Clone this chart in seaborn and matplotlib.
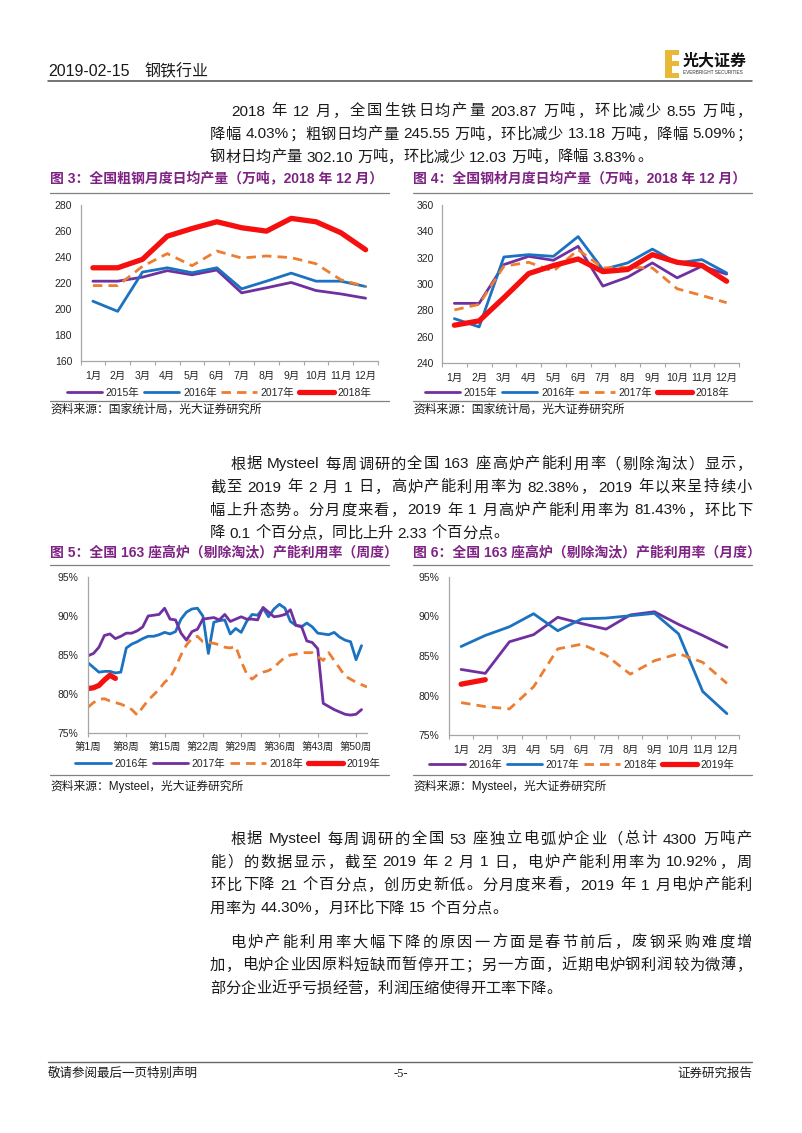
import numpy as np
import matplotlib
matplotlib.use("Agg")
import matplotlib.pyplot as plt
import seaborn as sns
from matplotlib.lines import Line2D
from matplotlib.patches import Rectangle
from matplotlib.ticker import FuncFormatter

# ---------------- data ----------------
months = ["1月", "2月", "3月", "4月", "5月", "6月", "7月", "8月", "9月", "10月", "11月", "12月"]

crude_2015 = [221.4, 221.4, 224.5, 229.5, 226.3, 230.0, 212.4, 216.3, 220.4, 214.2, 211.6, 208.3]
crude_2016 = [206.0, 198.2, 228.4, 231.7, 227.9, 231.7, 215.5, 221.4, 227.6, 221.4, 221.4, 217.3]
crude_2017 = [218.0, 218.0, 232.8, 242.6, 233.3, 244.6, 239.2, 240.8, 239.5, 234.8, 222.5, 217.3]
crude_2018 = [231.7, 231.7, 238.2, 256.0, 261.9, 267.1, 262.5, 259.9, 269.7, 267.1, 258.7, 245.6]

rolled_2015 = [285.3, 285.3, 314.7, 321.0, 318.0, 328.6, 298.4, 305.2, 316.0, 304.7, 313.5, 307.5]
rolled_2016 = [273.7, 267.4, 320.5, 322.3, 321.0, 336.0, 311.0, 316.0, 326.5, 316.0, 318.5, 308.4]
rolled_2017 = [280.3, 284.5, 313.5, 316.5, 309.7, 326.0, 312.2, 312.7, 312.2, 296.4, 291.3, 285.8]
rolled_2018 = [268.7, 272.0, 289.6, 307.9, 314.0, 319.0, 309.4, 311.0, 322.3, 316.5, 314.1, 302.1]

week_ticks = [1, 8, 15, 22, 29, 36, 43, 50]
week_labels = ["第1周", "第8周", "第15周", "第22周", "第29周", "第36周", "第43周", "第50周"]

bf_w_2016 = [84.0, 83.4, 82.8, 82.9, 82.9, 82.7, 82.8, 85.9, 86.4, 86.7,
             87.1, 87.4, 87.4, 87.6, 87.9, 87.7, 88.0, 89.6, 90.5, 90.9,
             91.0, 90.0, 85.2, 89.2, 89.4, 89.5, 87.7, 88.4, 87.9, 89.3,
             90.2, 90.1, 91.0, 89.9, 90.9, 91.5, 91.0, 89.3, 88.8, 88.6,
             89.1, 88.6, 87.8, 87.7, 87.6, 87.9, 87.3, 86.9, 86.7, 84.4, 86.2]
bf_w_2017 = [84.9, 85.2, 86.0, 87.5, 87.7, 87.1, 87.4, 87.8, 87.8, 88.1,
             88.6, 90.0, 90.1, 90.2, 91.0, 89.6, 89.5, 87.8, 86.9, 88.0,
             88.3, 89.6, 89.7, 89.8, 89.5, 90.2, 89.3, 89.6, 89.9, 89.6,
             89.6, 89.5, 91.1, 90.5, 89.9, 90.0, 90.2, 90.8, 88.8, 88.7,
             86.8, 86.6, 85.8, 78.8, 78.4, 78.0, 77.7, 77.4, 77.3, 77.4, 78.0]
bf_w_2018 = [78.3, 78.9, 79.3, 79.4, 79.1, 78.9, 78.7, 78.4, 78.0, 77.3,
             78.3, 79.2, 79.9, 80.6, 81.5, 82.1, 83.4, 85.0, 86.3, 87.1,
             87.4, 86.7, 86.6, 86.5, 86.3, 86.0, 85.9, 86.1, 84.2, 82.6,
             81.9, 82.5, 82.8, 83.0, 83.4, 84.1, 84.7, 85.0, 85.1, 85.3,
             85.3, 85.3, 84.8, 84.3, 85.3, 84.3, 83.3, 82.3, 81.9, 81.5, 81.2, 80.9]
bf_w_2019 = [80.7, 80.8, 81.1, 81.8, 82.4, 82.0]

bf_m_2016 = [83.3, 82.8, 86.8, 87.7, 89.9, 89.1, 88.4, 90.2, 90.6, 89.0, 87.6, 86.1]
bf_m_2017 = [86.2, 87.6, 88.7, 90.35, 88.2, 89.7, 89.8, 90.1, 90.4, 87.8, 80.5, 77.7]
bf_m_2018 = [79.1, 78.6, 78.3, 81.1, 85.9, 86.5, 85.1, 82.7, 84.4, 85.3, 84.2, 81.53]
bf_m_2019 = [81.43, 82.0]

para1 = ["2018 年 12 月，全国生铁日均产量 203.87 万吨，环比减少 8.55 万吨，",
         "降幅 4.03%；粗钢日均产量 245.55 万吨，环比减少 13.18 万吨，降幅 5.09%；",
         "钢材日均产量 302.10 万吨，环比减少 12.03 万吨，降幅 3.83%。"]
para2 = ["根据 Mysteel 每周调研的全国 163 座高炉产能利用率（剔除淘汰）显示，",
         "截至 2019 年 2 月 1 日，高炉产能利用率为 82.38%，2019 年以来呈持续小",
         "幅上升态势。分月度来看，2019 年 1 月高炉产能利用率为 81.43%，环比下",
         "降 0.1 个百分点，同比上升 2.33 个百分点。"]
para3 = ["根据 Mysteel 每周调研的全国 53 座独立电弧炉企业（总计 4300 万吨产",
         "能）的数据显示，截至 2019 年 2 月 1 日，电炉产能利用率为 10.92%，周",
         "环比下降 21 个百分点，创历史新低。分月度来看，2019 年 1 月电炉产能利",
         "用率为 44.30%，月环比下降 15 个百分点。"]
para4 = ["电炉产能利用率大幅下降的原因一方面是春节前后，废钢采购难度增",
         "加，电炉企业因原料短缺而暂停开工；另一方面，近期电炉钢利润较为微薄，",
         "部分企业近乎亏损经营，利润压缩使得开工率下降。"]

# ---------------- style ----------------
W, H = 802, 1133
sns.set_theme(style="white")
FAM = ["Liberation Sans", "Noto Sans CJK SC"]
plt.rcParams["font.family"] = FAM
plt.rcParams["axes.unicode_minus"] = False

PURPLE = "#7030A0"
BLUE = "#1B72C0"
ORANGE = "#ED7D31"
RED = "#F50F0F"
TITLE_C = "#7E2283"
AXC = "#A6A6A6"
TXT = "#262626"
BODY = "#1A1A1A"
BODY_SIZE = 11

fig = plt.figure(figsize=(W / 100, H / 100), dpi=100)
fig.patch.set_facecolor("white")
renderer = fig.canvas.get_renderer()


def fx(x):
    return x / W


def fy(y):
    return 1 - y / H


def add_ax(l, t, r, b):
    return fig.add_axes([fx(l), fy(b), (r - l) / W, (b - t) / H])


def hline(x0, x1, y, color, lw):
    fig.add_artist(Line2D([fx(x0), fx(x1)], [fy(y), fy(y)], transform=fig.transFigure,
                          color=color, lw=lw))


# ---------------- body text with justification ----------------
PUNCT_L = set("，。；：、）！？")
PUNCT_R = set("（")


def split_tokens(s):
    """Return list of (token, space_before)."""
    toks, buf, sp = [], "", False
    for ch in s:
        if ch == " ":
            if buf:
                toks.append((buf, sp))
                buf, sp = "", False
            sp = True
        elif ord(ch) < 128:
            buf += ch
        else:
            if buf:
                toks.append((buf, sp))
                buf, sp = "", False
            toks.append((ch, sp))
            sp = False
    if buf:
        toks.append((buf, sp))
    return toks


def body_line(s, x0, y, x1=None, size=BODY_SIZE):
    em = size * 100 / 72
    base = fy(y + 0.36 * em)
    items = []
    for t, sp in split_tokens(s):
        pre = 0.25 * em if sp else 0.0
        if ord(t[0]) >= 128:
            items.append([t, em, None, pre])
        else:
            tx = fig.text(0, base, t, fontsize=size, ha="left", va="baseline", color=BODY)
            w = tx.get_window_extent(renderer).width + 0.1 * em
            items.append([t, w, tx, pre])
    total = sum(it[1] + it[3] for it in items)
    gap = 0.0
    if x1 is not None and len(items) > 1:
        gap = (x1 - x0 - total) / (len(items) - 1)
    x = x0
    for t, w, tx, pre in items:
        x += pre
        if tx is not None:
            tx.set_x(fx(x + 0.05 * em))
        elif t in PUNCT_L:
            fig.text(fx(x + 0.03 * em), base, t, fontsize=size, ha="left", va="baseline", color=BODY)
        elif t in PUNCT_R:
            fig.text(fx(x + w - 0.03 * em), base, t, fontsize=size, ha="right", va="baseline", color=BODY)
        else:
            fig.text(fx(x + w / 2), base, t, fontsize=size, ha="center", va="baseline", color=BODY)
        x += w + gap


def paragraph(lines, ys, indent_x=230, left=210, right=752):
    n = len(lines)
    for i, (s, y) in enumerate(zip(lines, ys)):
        x0 = indent_x if i == 0 else left
        body_line(s, x0, y, right if i < n - 1 else None)


# ---------------- header / footer ----------------
fig.text(fx(48), fy(72), "2019-02-15", fontsize=11.5, ha="left", va="center", color=BODY)
fig.text(fx(144), fy(72), "钢铁行业", fontsize=11.5, ha="left", va="center", color=BODY)
hline(48, 752, 80.5, "#4D4D4D", 1.1)
# logo
fig.add_artist(Rectangle((fx(665), fy(78)), 14 / W, 28 / H, transform=fig.transFigure,
                         facecolor="#E8B838", edgecolor="none"))
for yy in (55, 66.5):
    fig.add_artist(Rectangle((fx(671.5), fy(yy + 6)), 8 / W, 6 / H, transform=fig.transFigure,
                             facecolor="white", edgecolor="none"))
fig.text(fx(683), fy(61), "光大证券", fontsize=11.5, fontweight="bold", ha="left", va="center", color="#111111")
fig.text(fx(683), fy(73), "EVERBRIGHT SECURITIES", fontsize=3.4, ha="left", va="center", color="#333333")

hline(48, 752, 1062, "#666666", 1.0)
fig.text(fx(48), fy(1074), "敬请参阅最后一页特别声明", fontsize=9, ha="left", va="center", color=BODY)
fig.text(fx(401), fy(1074), "-5-", fontsize=9, ha="center", va="center", color=BODY,
         family=["Liberation Serif", "Noto Sans CJK SC"])
fig.text(fx(752), fy(1074), "证券研究报告", fontsize=9, ha="right", va="center", color=BODY)

# ---------------- paragraphs ----------------
paragraph(para1, [110, 133, 156])
paragraph(para2, [463, 486, 509, 532])
paragraph(para3, [838, 861, 884, 907])
paragraph(para4, [941, 964, 987])

# ---------------- chart frames ----------------
def frame(x0, x1, ytitle, yline1, yline2, ysrc, title, source):
    fig.text(fx(x0), fy(ytitle), title, fontsize=10, fontweight="bold", ha="left", va="center", color=TITLE_C)
    hline(x0, x1, yline1, "#808080", 0.9)
    hline(x0, x1, yline2, "#808080", 0.9)
    fig.text(fx(x0), fy(ysrc), source, fontsize=8.5, ha="left", va="center", color=BODY)


frame(50, 389, 178, 193, 401, 410, "图 3：全国粗钢月度日均产量（万吨，2018 年 12 月）", "资料来源：国家统计局，光大证券研究所")
frame(413, 752, 178, 193, 401, 410, "图 4：全国钢材月度日均产量（万吨，2018 年 12 月）", "资料来源：国家统计局，光大证券研究所")
frame(50, 389, 552, 565, 775, 786, "图 5：全国 163 座高炉（剔除淘汰）产能利用率（周度）", "资料来源：Mysteel，光大证券研究所")
frame(413, 752, 552, 565, 775, 786, "图 6：全国 163 座高炉（剔除淘汰）产能利用率（月度）", "资料来源：Mysteel，光大证券研究所")


def style_axes(ax):
    for s in ["top", "right"]:
        ax.spines[s].set_visible(False)
    for s in ["left", "bottom"]:
        ax.spines[s].set_visible(True)
        ax.spines[s].set_color(AXC)
        ax.spines[s].set_linewidth(0.9)
    ax.set_facecolor("white")
    ax.grid(False)
    ax.set_xlabel("")
    ax.set_ylabel("")
    ax.tick_params(axis="y", left=False, length=0, pad=6, labelsize=7.5, labelcolor=TXT)


def month_axes(ax, ymin, ymax, step, pct=False):
    style_axes(ax)
    ax.set_xlim(-0.5, 11.5)
    ax.set_ylim(ymin, ymax)
    ax.set_yticks(np.arange(ymin, ymax + 0.01, step))
    if pct:
        ax.yaxis.set_major_formatter(FuncFormatter(lambda v, p: f"{v:.0f}%"))
    ax.set_xticks(np.arange(-0.5, 12, 1))
    ax.set_xticklabels([])
    ax.set_xticks(np.arange(12), minor=True)
    ax.set_xticklabels(months, minor=True)
    ax.tick_params(axis="x", which="major", bottom=True, length=3, width=0.8, color=AXC, direction="out")
    ax.tick_params(axis="x", which="minor", bottom=True, length=0, pad=7, labelsize=7.5, labelcolor=TXT)


def draw(ax, x, y, color, lw, dashed=False):
    sns.lineplot(x=np.asarray(x), y=np.asarray(y), ax=ax, color=color, linewidth=lw,
                 estimator=None, sort=False, legend=False)
    line = ax.lines[-1]
    line.set_solid_capstyle("round")
    line.set_solid_joinstyle("round")
    if dashed:
        line.set_linestyle("--")
        line.set_dashes((3.4, 2.2))
        line.set_dash_capstyle("butt")
    return line


def legend(ax, handles, labels, cx, cy):
    ax.legend(handles, labels, loc="center", bbox_to_anchor=(fx(cx), fy(cy)),
              bbox_transform=fig.transFigure, ncol=4, frameon=False, fontsize=7.5,
              handlelength=3.4, handletextpad=0.35, columnspacing=0.45,
              borderaxespad=0, borderpad=0, labelcolor=TXT)


mx = np.arange(12)

# ---- Figure 3 ----
ax3 = add_ax(80.5, 205, 378, 361)
h = [draw(ax3, mx, crude_2015, PURPLE, 2.0),
     draw(ax3, mx, crude_2016, BLUE, 2.0),
     draw(ax3, mx, crude_2017, ORANGE, 2.0, dashed=True),
     draw(ax3, mx, crude_2018, RED, 3.8)]
month_axes(ax3, 160, 280, 20)
legend(ax3, h, ["2015年", "2016年", "2017年", "2018年"], 219, 393)

# ---- Figure 4 ----
ax4 = add_ax(442, 205, 739, 363)
h = [draw(ax4, mx, rolled_2015, PURPLE, 2.0),
     draw(ax4, mx, rolled_2016, BLUE, 2.0),
     draw(ax4, mx, rolled_2017, ORANGE, 2.0, dashed=True),
     draw(ax4, mx, rolled_2018, RED, 3.8)]
month_axes(ax4, 240, 360, 20)
legend(ax4, h, ["2015年", "2016年", "2017年", "2018年"], 577, 393)

# ---- Figure 5 ----
ax5 = add_ax(88, 577, 367, 733)
h = [draw(ax5, np.arange(1, len(bf_w_2016) + 1), bf_w_2016, BLUE, 2.0),
     draw(ax5, np.arange(1, len(bf_w_2017) + 1), bf_w_2017, PURPLE, 2.0),
     draw(ax5, np.arange(1, len(bf_w_2018) + 1), bf_w_2018, ORANGE, 2.0, dashed=True),
     draw(ax5, np.arange(1, len(bf_w_2019) + 1), bf_w_2019, RED, 3.8)]
style_axes(ax5)
ax5.set_xlim(1, 52)
ax5.set_ylim(75, 95)
ax5.set_yticks(np.arange(75, 95.01, 5))
ax5.yaxis.set_major_formatter(FuncFormatter(lambda v, p: f"{v:.0f}%"))
ax5.set_xticks(week_ticks)
ax5.set_xticklabels(week_labels)
ax5.tick_params(axis="x", bottom=True, length=3, width=0.8, color=AXC, direction="out",
                pad=3.5, labelsize=7.5, labelcolor=TXT)
ax5.tick_params(axis="y", pad=7)
legend(ax5, h, ["2016年", "2017年", "2018年", "2019年"], 228, 764)

# ---- Figure 6 ----
ax6 = add_ax(449, 577, 739, 735)
h = [draw(ax6, mx, bf_m_2016, PURPLE, 2.0),
     draw(ax6, mx, bf_m_2017, BLUE, 2.0),
     draw(ax6, mx, bf_m_2018, ORANGE, 2.0, dashed=True),
     draw(ax6, np.arange(len(bf_m_2019)), bf_m_2019, RED, 3.8)]
month_axes(ax6, 75, 95, 5, pct=True)
ax6.tick_params(axis="y", pad=7)
legend(ax6, h, ["2016年", "2017年", "2018年", "2019年"], 582, 765)

fig.savefig("out.png", dpi=100, facecolor="white")
